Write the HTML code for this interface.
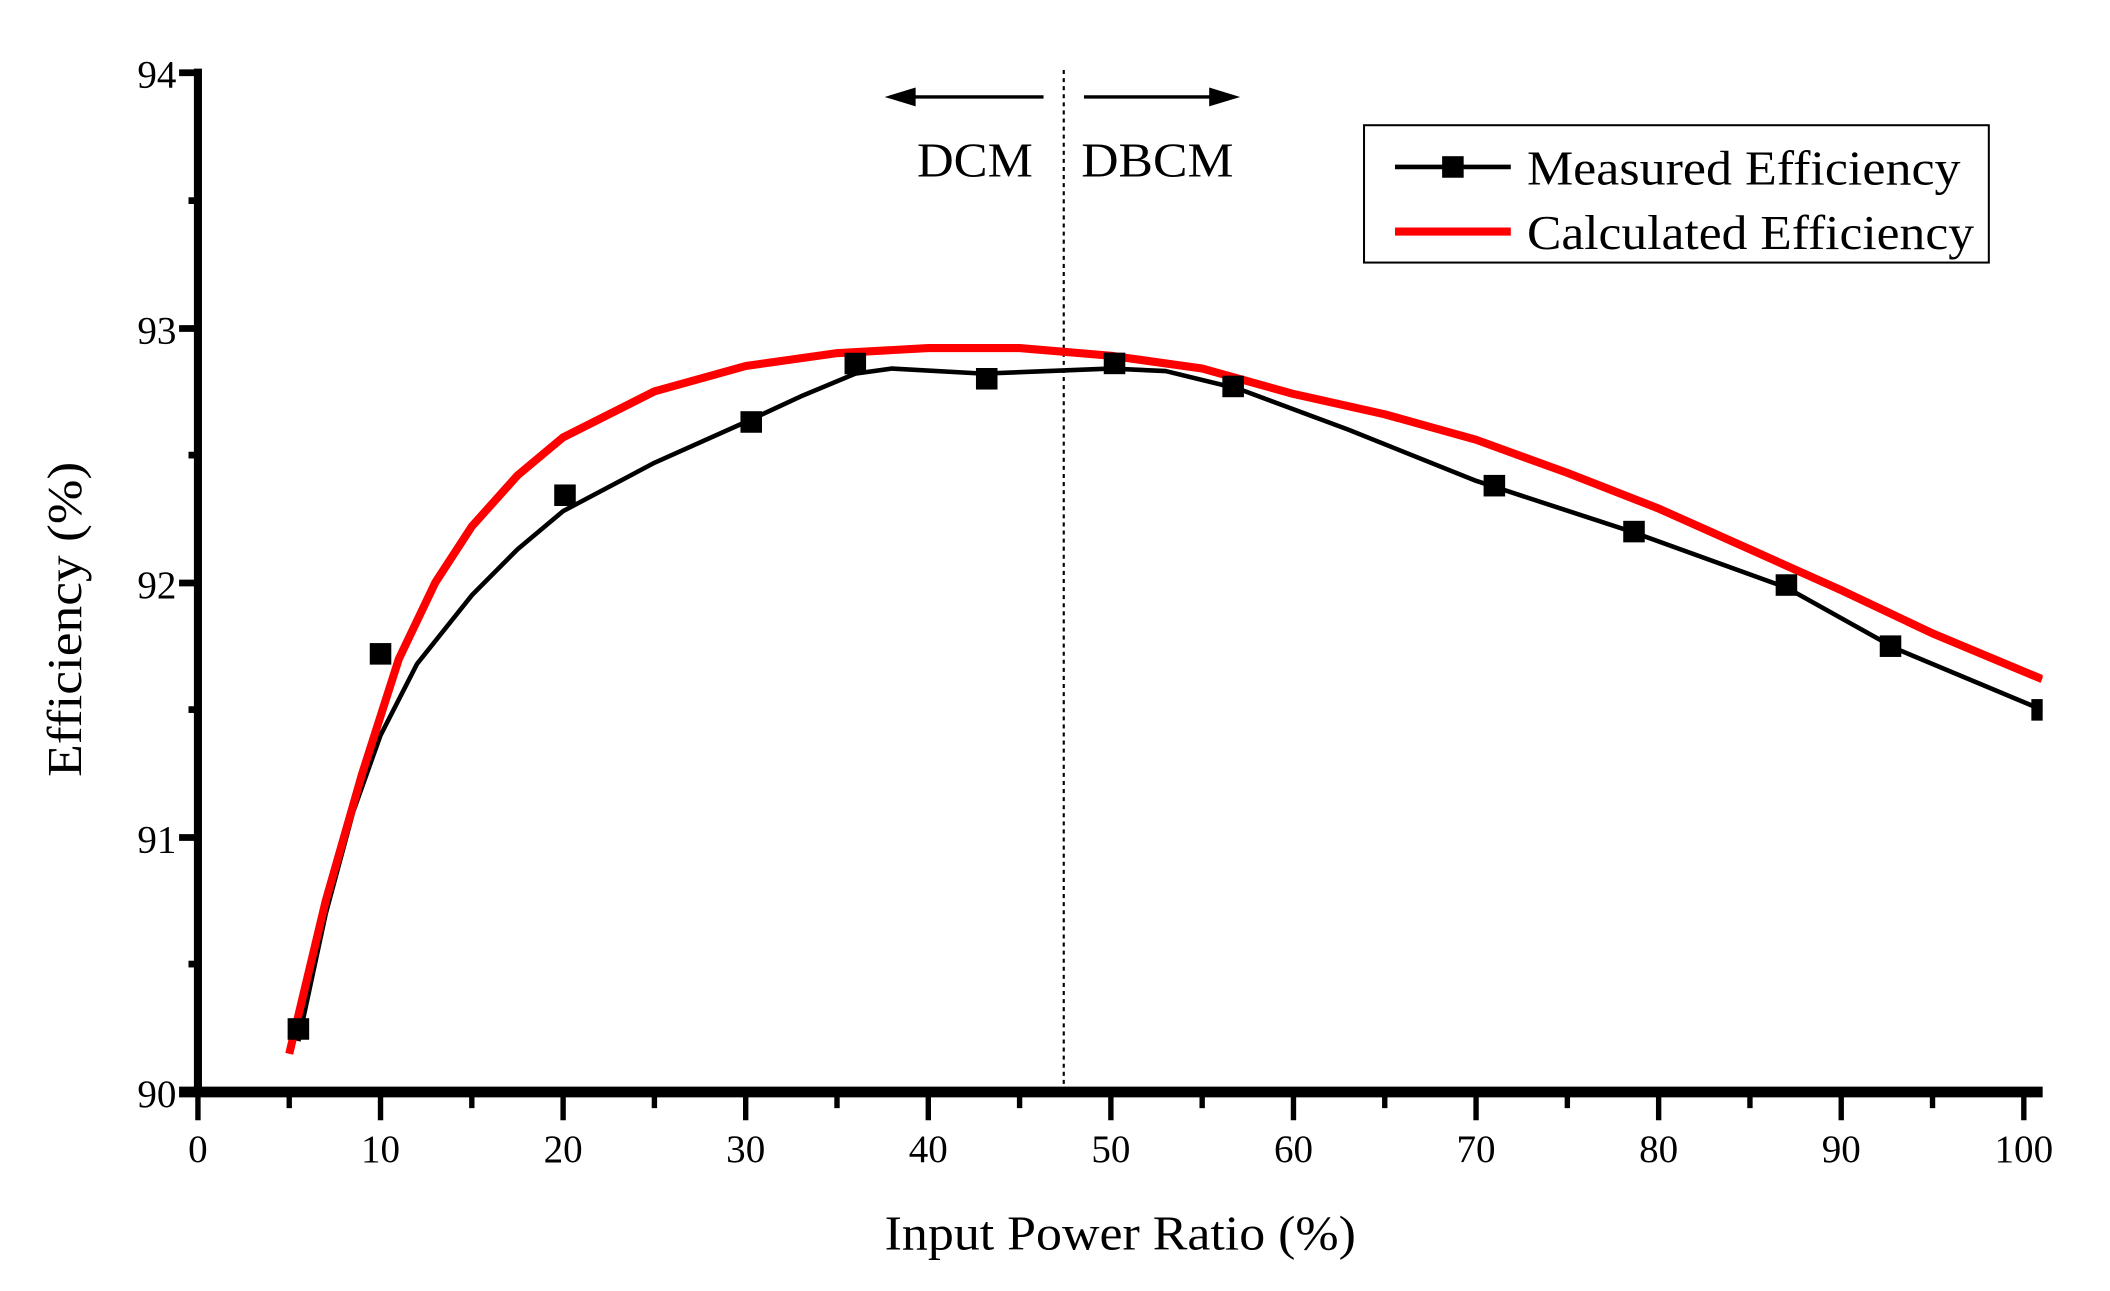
<!DOCTYPE html>
<html><head><meta charset="utf-8"><style>html,body{margin:0;padding:0;background:#fff}svg{display:block}</style></head>
<body>
<svg width="2110" height="1291" viewBox="0 0 1567 958.8" preserveAspectRatio="none" font-family="Liberation Serif, serif">
<defs><clipPath id="c"><rect x="147" y="40" width="1370" height="772"/></clipPath></defs>
<rect width="1600" height="1000" fill="#fff"/>
<line x1="790" y1="52" x2="790" y2="808" stroke="#000" stroke-width="1.6" stroke-dasharray="3,3"/>
<line x1="775" y1="72" x2="670" y2="72" stroke="#000" stroke-width="2.5"/>
<polygon points="657,72 680,65 680,79" fill="#000"/>
<line x1="805" y1="72" x2="908" y2="72" stroke="#000" stroke-width="2.5"/>
<polygon points="921,72 898,65 898,79" fill="#000"/>
<text x="681" y="131" font-size="36" textLength="86" lengthAdjust="spacingAndGlyphs">DCM</text>
<text x="803" y="131" font-size="36" textLength="113" lengthAdjust="spacingAndGlyphs">DBCM</text>
<g clip-path="url(#c)">
<polyline fill="none" stroke="#000" stroke-width="3.4" stroke-linejoin="round" points="221.6,773.2 241.9,678.6 262.3,602.9 282.6,546.1 309.7,493.1 350.4,442.1 384.3,408.0 418.2,379.6 486.0,343.7 553.8,313.4 594.5,294.5 635.2,277.5 662.3,273.7 730.1,277.5 825.0,273.7 865.7,275.6 919.9,288.8 1001.3,319.1 1096.2,357.1 1211.5,394.8 1326.7,436.4 1408.1,481.8 1516.6,527.2"/>
<polyline fill="none" stroke="#f00" stroke-width="6" stroke-linejoin="round" points="214.8,782.6 241.9,669.1 269.0,574.5 296.2,489.4 323.3,432.6 350.4,391.0 384.3,353.1 418.2,324.8 486.0,290.7 553.8,271.8 621.6,262.3 689.4,258.5 757.2,258.5 825.0,264.2 892.8,273.7 960.6,292.6 1028.4,307.7 1096.2,326.6 1164.0,351.2 1231.8,377.7 1299.6,408.0 1367.4,438.3 1435.2,470.4 1516.6,504.4"/>
<g fill="#000">
<rect x="213.6" y="756.2" width="16" height="16"/>
<rect x="274.6" y="477.6" width="16" height="16"/>
<rect x="411.6" y="359.8" width="16" height="16"/>
<rect x="549.9" y="305.4" width="16" height="16"/>
<rect x="627.2" y="262" width="16" height="16"/>
<rect x="724.8" y="273.3" width="16" height="16"/>
<rect x="819.7" y="261.9" width="16" height="16"/>
<rect x="907.8" y="279" width="16" height="16"/>
<rect x="1101.8" y="352.7" width="16" height="16"/>
<rect x="1205.5" y="386.8" width="16" height="16"/>
<rect x="1318.7" y="426.5" width="16" height="16"/>
<rect x="1396" y="471.9" width="16" height="16"/>
<rect x="1508.6" y="519.2" width="16" height="16"/>
</g>
</g>
<line x1="147" y1="51" x2="147" y2="814" stroke="#000" stroke-width="6"/>
<line x1="133" y1="811" x2="1517" y2="811" stroke="#000" stroke-width="8"/>
<g stroke="#000" stroke-width="5">
<line x1="133" y1="54" x2="147" y2="54"/><line x1="140" y1="149" x2="147" y2="149"/>
<line x1="133" y1="244" x2="147" y2="244"/><line x1="140" y1="338" x2="147" y2="338"/>
<line x1="133" y1="433" x2="147" y2="433"/><line x1="140" y1="527" x2="147" y2="527"/>
<line x1="133" y1="622" x2="147" y2="622"/><line x1="140" y1="716" x2="147" y2="716"/>
</g>
<g stroke="#000" stroke-width="4">
<line x1="147" y1="811" x2="147" y2="832"/><line x1="214.8" y1="811" x2="214.8" y2="823"/>
<line x1="282.6" y1="811" x2="282.6" y2="832"/><line x1="350.4" y1="811" x2="350.4" y2="823"/>
<line x1="418.2" y1="811" x2="418.2" y2="832"/><line x1="486" y1="811" x2="486" y2="823"/>
<line x1="553.8" y1="811" x2="553.8" y2="832"/><line x1="621.6" y1="811" x2="621.6" y2="823"/>
<line x1="689.4" y1="811" x2="689.4" y2="832"/><line x1="757.2" y1="811" x2="757.2" y2="823"/>
<line x1="825" y1="811" x2="825" y2="832"/><line x1="892.8" y1="811" x2="892.8" y2="823"/>
<line x1="960.6" y1="811" x2="960.6" y2="832"/><line x1="1028.4" y1="811" x2="1028.4" y2="823"/>
<line x1="1096.2" y1="811" x2="1096.2" y2="832"/><line x1="1164" y1="811" x2="1164" y2="823"/>
<line x1="1231.8" y1="811" x2="1231.8" y2="832"/><line x1="1299.6" y1="811" x2="1299.6" y2="823"/>
<line x1="1367.4" y1="811" x2="1367.4" y2="832"/><line x1="1435.2" y1="811" x2="1435.2" y2="823"/>
<line x1="1503" y1="811" x2="1503" y2="832"/>
</g>
<g font-size="29" text-anchor="end">
<text x="131" y="65">94</text><text x="131" y="255">93</text><text x="131" y="444">92</text><text x="131" y="633">91</text><text x="131" y="822">90</text>
</g>
<g font-size="29" text-anchor="middle">
<text x="147" y="863">0</text><text x="282.6" y="863">10</text><text x="418.2" y="863">20</text><text x="553.8" y="863">30</text><text x="689.4" y="863">40</text><text x="825" y="863">50</text><text x="960.6" y="863">60</text><text x="1096.2" y="863">70</text><text x="1231.8" y="863">80</text><text x="1367.4" y="863">90</text><text x="1503" y="863">100</text>
</g>
<text x="657" y="928" font-size="36" textLength="350" lengthAdjust="spacingAndGlyphs">Input Power Ratio (%)</text>
<text transform="translate(60,577) rotate(-90)" font-size="36" textLength="234" lengthAdjust="spacingAndGlyphs">Efficiency (%)</text>
<rect x="1013" y="93" width="464" height="102" fill="#fff" stroke="#000" stroke-width="1.5"/>
<line x1="1036" y1="124" x2="1122" y2="124" stroke="#000" stroke-width="3.4"/>
<rect x="1071" y="116" width="16" height="16" fill="#000"/>
<text x="1134" y="137" font-size="36" textLength="322" lengthAdjust="spacingAndGlyphs">Measured Efficiency</text>
<line x1="1036" y1="172" x2="1122" y2="172" stroke="#f00" stroke-width="6"/>
<text x="1134" y="185" font-size="36" textLength="332" lengthAdjust="spacingAndGlyphs">Calculated Efficiency</text>
</svg>
</body></html>
